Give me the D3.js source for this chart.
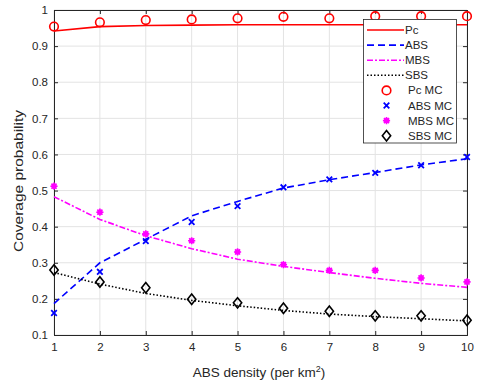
<!DOCTYPE html>
<html>
<head>
<meta charset="utf-8">
<script src="https://cdn.jsdelivr.net/npm/d3@7"></script>
<style>
  body { margin: 0; background: #fff; }
  svg text { font-family: "Liberation Sans", Arial, sans-serif; fill: #262626; }
</style>
</head>
<body>
<div id="chart"></div>
<script>
// ABS density values
var density = [1, 2, 3, 4, 5, 6, 7, 8, 9, 10];

// analytic curves
var pcLine  = [0.942, 0.954, 0.957, 0.958, 0.959, 0.959, 0.959, 0.959, 0.959, 0.959];
var absLine = [0.187, 0.300, 0.365, 0.430, 0.470, 0.507, 0.530, 0.550, 0.571, 0.588];
var mbsLine = [0.483, 0.420, 0.375, 0.339, 0.310, 0.290, 0.273, 0.257, 0.243, 0.232];
var sbsLine = [0.273, 0.241, 0.215, 0.196, 0.181, 0.168, 0.158, 0.151, 0.145, 0.139];

// Monte Carlo points
var pcMC  = [0.954, 0.966, 0.972, 0.974, 0.977, 0.981, 0.977, 0.983, 0.983, 0.983];
var absMC = [0.161, 0.275, 0.360, 0.413, 0.457, 0.509, 0.531, 0.549, 0.570, 0.593];
var mbsMC = [0.512, 0.440, 0.380, 0.361, 0.330, 0.295, 0.279, 0.279, 0.258, 0.247];
var sbsMC = [0.280, 0.247, 0.231, 0.199, 0.189, 0.174, 0.166, 0.153, 0.153, 0.141];

var xTicks = [1, 2, 3, 4, 5, 6, 7, 8, 9, 10];
var yTicks = [0.1, 0.2, 0.3, 0.4, 0.5, 0.6, 0.7, 0.8, 0.9, 1];

const _left = 54, _right = 467, _top = 10, _bottom = 335;
var axisColor = '#262626';

var svg = d3.select("#chart").append("svg")
    .attr("width", 482)
    .attr("height", 383);

var x = d3.scaleLinear().domain([1, 10]).range([_left, _right]);
var y = d3.scaleLinear().domain([0.1, 1]).range([_bottom, _top]);

// grid
var grid = svg.append("g");
grid.selectAll("line.gx").data(xTicks).enter().append("line")
    .attr("x1", d => x(d)).attr("x2", d => x(d))
    .attr("y1", _top).attr("y2", _bottom)
    .attr("stroke", "#e3e3e3").attr("stroke-width", 1);
grid.selectAll("line.gy").data(yTicks).enter().append("line")
    .attr("y1", d => y(d)).attr("y2", d => y(d))
    .attr("x1", _left).attr("x2", _right)
    .attr("stroke", "#e3e3e3").attr("stroke-width", 1);

// axes with inward ticks
var xAxis = d3.axisBottom(x).tickValues(xTicks).tickSize(-4).tickPadding(8).tickFormat(d3.format("d"));
var xAxisTop = d3.axisTop(x).tickValues(xTicks).tickSize(-4).tickFormat("");
var yAxis = d3.axisLeft(y).tickValues(yTicks).tickSize(-4).tickPadding(6).tickFormat(d => d == 1 ? "1" : d3.format(".1f")(d));
var yAxisRight = d3.axisRight(y).tickValues(yTicks).tickSize(-4).tickFormat("");

function styleAxis(g) {
    g.selectAll("path").attr("stroke", axisColor).attr("stroke-width", 1);
    g.selectAll("line").attr("stroke", axisColor);
    g.selectAll("text").style("font-size", "11.5px").attr("fill", axisColor)
        .style("font-family", "Liberation Sans, Arial, sans-serif");
}

svg.append("g").attr("transform", "translate(0," + _bottom + ")").call(xAxis).call(styleAxis);
svg.append("g").attr("transform", "translate(0," + _top + ")").call(xAxisTop).call(styleAxis);
svg.append("g").attr("transform", "translate(" + _left + ",0)").call(yAxis).call(styleAxis);
svg.append("g").attr("transform", "translate(" + _right + ",0)").call(yAxisRight).call(styleAxis);

// axis labels
svg.append("text")
    .attr("transform", "rotate(-90)")
    .attr("x", -181)
    .attr("y", 22.5)
    .style("text-anchor", "middle")
    .style("font-size", "13px")
    .attr("textLength", 142)
    .attr("lengthAdjust", "spacingAndGlyphs")
    .text("Coverage probability");

var xl = svg.append("text")
    .attr("x", 259)
    .attr("y", 377)
    .style("text-anchor", "middle")
    .style("font-size", "13.5px");
xl.append("tspan").text("ABS density (per km");
xl.append("tspan").attr("dy", -5).style("font-size", "9px").text("2");
xl.append("tspan").attr("dy", 5).text(")");

// lines
var series = [
    { name: 'Pc', vals: pcLine, color: '#ff0000', dash: null, width: 1.6 },
    { name: 'ABS', vals: absLine, color: '#0000ff', dash: '7,4', width: 1.6 },
    { name: 'MBS', vals: mbsLine, color: '#ff00ff', dash: '6,2,2,2', width: 1.6 },
    { name: 'SBS', vals: sbsLine, color: '#000000', dash: '1.5,2', width: 1.6 }
];

var line = d3.line().x((d, i) => x(density[i])).y(d => y(d));

series.forEach(function (s) {
    svg.append("path")
        .datum(s.vals)
        .attr("d", line)
        .attr("fill", "none")
        .attr("stroke", s.color)
        .attr("stroke-width", s.width)
        .attr("stroke-dasharray", s.dash);
});

// markers
function drawMarker(g, type, cx, cy) {
    if (type == 'circle') {
        g.append("circle").attr("cx", cx).attr("cy", cy).attr("r", 4.3)
            .attr("fill", "none").attr("stroke", "#ff0000").attr("stroke-width", 1.6);
    } else if (type == 'x') {
        var s = 2.8;
        g.append("path")
            .attr("d", "M" + (cx - s) + "," + (cy - s) + "L" + (cx + s) + "," + (cy + s) +
                "M" + (cx - s) + "," + (cy + s) + "L" + (cx + s) + "," + (cy - s))
            .attr("stroke", "#0000ff").attr("stroke-width", 1.8).attr("fill", "none");
    } else if (type == 'star') {
        var r = 3.6, p = "";
        for (var k = 0; k < 4; k++) {
            var a = k * Math.PI / 4;
            p += "M" + (cx - r * Math.cos(a)) + "," + (cy - r * Math.sin(a)) +
                "L" + (cx + r * Math.cos(a)) + "," + (cy + r * Math.sin(a));
        }
        g.append("circle").attr("cx", cx).attr("cy", cy).attr("r", 2.6).attr("fill", "#ff00ff");
        g.append("path").attr("d", p).attr("stroke", "#ff00ff").attr("stroke-width", 1.6).attr("fill", "none");
    } else if (type == 'diamond') {
        var d = 5.2;
        g.append("path")
            .attr("d", "M" + cx + "," + (cy - d) + "L" + (cx + d * 0.8) + "," + cy + "L" + cx + "," + (cy + d) +
                "L" + (cx - d * 0.8) + "," + cy + "Z")
            .attr("fill", "none").attr("stroke", "#000000").attr("stroke-width", 1.6);
    }
}

var mcSeries = [
    { name: 'Pc MC', vals: pcMC, type: 'circle' },
    { name: 'ABS MC', vals: absMC, type: 'x' },
    { name: 'MBS MC', vals: mbsMC, type: 'star' },
    { name: 'SBS MC', vals: sbsMC, type: 'diamond' }
];

var markers = svg.append("g");
mcSeries.forEach(function (s) {
    s.vals.forEach(function (v, i) {
        drawMarker(markers, s.type, x(density[i]), y(v));
    });
});

// legend
var lg = svg.append("g");
lg.append("rect")
    .attr("x", 363.5).attr("y", 19.5)
    .attr("width", 93).attr("height", 123.5)
    .attr("fill", "#fff").attr("stroke", axisColor).attr("stroke-width", 0.8);

var rowY = function (idx) { return 30 + idx * 15.1; };

series.forEach(function (s, idx) {
    lg.append("line")
        .attr("x1", 367).attr("x2", 404)
        .attr("y1", rowY(idx)).attr("y2", rowY(idx))
        .attr("stroke", s.color).attr("stroke-width", s.width)
        .attr("stroke-dasharray", s.dash);
    lg.append("text")
        .attr("x", 405).attr("y", rowY(idx)).attr("dy", "0.35em")
        .style("font-size", "11.5px")
        .text(s.name);
});

mcSeries.forEach(function (s, idx) {
    var ry = rowY(idx + 4);
    drawMarker(lg, s.type, 386.5, ry);
    lg.append("text")
        .attr("x", 408).attr("y", ry).attr("dy", "0.35em")
        .style("font-size", "11.5px")
        .text(s.name);
});
</script>
</body>
</html>
